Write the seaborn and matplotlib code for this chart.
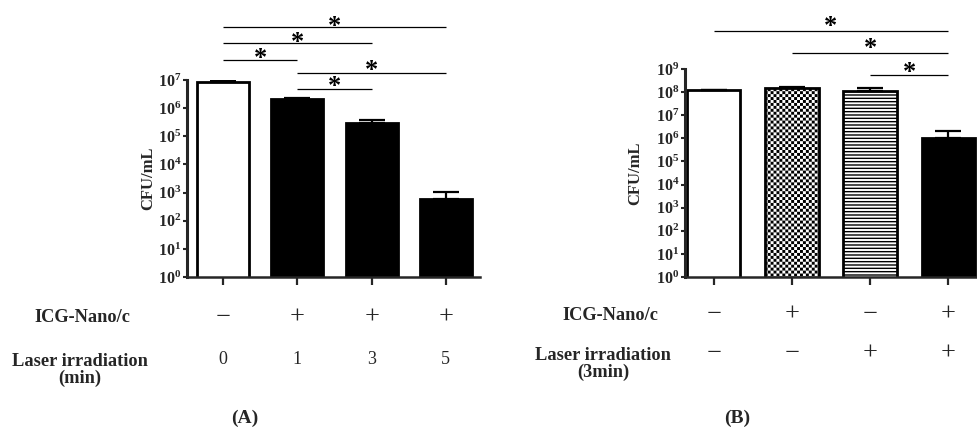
import numpy as np
import pandas as pd
import matplotlib
matplotlib.use("Agg")
import matplotlib.pyplot as plt
import matplotlib.hatch as mhatch
import matplotlib.transforms as mtransforms
from matplotlib.path import Path
from matplotlib.ticker import FixedLocator, FixedFormatter, NullLocator
import seaborn as sns

# ---------------- data ----------------
A_groups = ["Control", "ICG 1 min", "ICG 3 min", "ICG 5 min"]
A_cfu = [8.8e6, 2.2e6, 3.0e5, 6.0e2]
A_err = [2.0e5, 1.0e5, 0.75e5, 4.5e2]
A_icg = ["\u2212", "+", "+", "+"]
A_laser = ["0", "1", "3", "5"]
A_sig = [(0, 3), (0, 2), (0, 1), (1, 3), (1, 2)]
A_exp = [0, 1, 2, 3, 4, 5, 6, 7]

B_groups = ["Control", "ICG-Nano/c", "Laser", "ICG-Nano/c + Laser"]
B_cfu = [1.22e8, 1.55e8, 1.15e8, 1.0e6]
B_err = [5.0e6, 1.0e7, 3.0e7, 1.0e6]
B_icg = ["\u2212", "+", "\u2212", "+"]
B_laser = ["\u2212", "\u2212", "+", "+"]
B_sig = [(0, 3), (1, 3), (2, 3)]
B_exp = [0, 1, 2, 3, 4, 5, 6, 7, 8, 9]


# ------------- checkerboard hatch ('*') -------------
class CheckerHatch(mhatch.HatchPatternBase):
    cells = 34
    inset = 0.007

    def __init__(self, hatch, density):
        n = self.cells
        self.num_vertices = (n * n // 2) * 5 if hatch.count('*') > 0 else 0

    def set_vertices_and_codes(self, vertices, codes):
        n = self.cells
        s = 1.0 / n
        d = self.inset
        verts = []
        for i in range(n):
            for j in range(n):
                if (i + j) % 2 == 0:
                    x0, y0 = i * s + d, j * s + d
                    x1, y1 = (i + 1) * s - d, (j + 1) * s - d
                    verts.extend([(x0, y0), (x1, y0), (x1, y1), (x0, y1), (x0, y0)])
        vertices[:] = np.array(verts)
        codes[:] = np.tile([Path.MOVETO, Path.LINETO, Path.LINETO,
                            Path.LINETO, Path.CLOSEPOLY], n * n // 2)


mhatch._hatch_types = [t for t in mhatch._hatch_types if t is not mhatch.Stars] + [CheckerHatch]

# ---------------- style ----------------
sns.set_style("ticks")
plt.rcParams.update({
    "font.family": ["Liberation Serif", "DejaVu Serif"],
    "mathtext.fontset": "custom",
    "mathtext.rm": "Liberation Serif",
    "mathtext.bf": "Liberation Serif:bold",
    "mathtext.it": "Liberation Serif:italic",
    "hatch.linewidth": 1.0,
    "hatch.color": "black",
})

W, H = 977, 429
fig = plt.figure(figsize=(W / 100, H / 100), dpi=100)


def fx(px):
    return px / W


def fy(py):
    return 1 - py / H


axA = fig.add_axes([fx(187), fy(277), fx(480 - 187), (277 - 80) / H])
axB = fig.add_axes([fx(685), fy(277), fx(977 - 685), (277 - 69) / H])


def draw_panel(ax, groups, vals, errs, colors, hatches, exps, width, xlim):
    df = pd.DataFrame({"group": groups, "cfu": vals})
    sns.barplot(data=df, x="group", y="cfu", hue="group", palette=colors,
                legend=False, edgecolor="black", linewidth=2.0, width=width,
                saturation=1, errorbar=None, ax=ax, zorder=2)
    for p, h in zip(ax.patches, hatches):
        if h:
            p.set_hatch(h)
    ax.set_yscale("log")
    centers = [p.get_x() + p.get_width() / 2 for p in ax.patches]
    ax.errorbar(centers, vals, yerr=[np.zeros(len(errs)), errs], fmt="none",
                ecolor="black", elinewidth=1.6, capsize=9.5, capthick=1.6, zorder=3)
    ax.set_ylim(10 ** exps[0], 10 ** exps[-1])
    ax.set_xlim(*xlim)
    ax.yaxis.set_major_locator(FixedLocator([10.0 ** e for e in exps]))
    ax.yaxis.set_major_formatter(FixedFormatter([r"$\mathbf{10^{%d}}$" % e for e in exps]))
    ax.yaxis.set_minor_locator(NullLocator())
    ax.set_xticks(range(len(groups)))
    ax.set_xticklabels([])
    ax.set_xlabel("")
    ax.set_ylabel("CFU/mL", fontsize=12, fontweight="bold", labelpad=2)
    for s in ["top", "right"]:
        ax.spines[s].set_visible(False)
    ax.spines["left"].set_linewidth(2.2)
    ax.spines["bottom"].set_linewidth(1.8)
    ax.tick_params(axis="y", direction="out", length=3, width=1.5, pad=1.2, labelsize=11.5)
    ax.tick_params(axis="x", direction="out", length=6, width=1.6)


draw_panel(axA, A_groups, A_cfu, A_err, ["white", "black", "black", "black"],
           [None, None, None, None], A_exp, 0.70, (-0.485, 3.46))
draw_panel(axB, B_groups, B_cfu, B_err, ["white", "white", "white", "black"],
           [None, "*", "-----", None], B_exp, 0.68, (-0.37, 3.37))
axA.yaxis.set_label_coords((156 - 187) / 293, 0.5)
axB.yaxis.set_label_coords((643 - 685) / 292, 0.5)


def sig(ax, pairs, line_py, star_py):
    tr = mtransforms.blended_transform_factory(ax.transData, fig.transFigure)
    for (i, j), ly, sy in zip(pairs, line_py, star_py):
        ax.plot([i, j], [fy(ly), fy(ly)], transform=tr, color="black", lw=0.9,
                clip_on=False, solid_capstyle="butt")
        ax.text((i + j) / 2, fy(sy + 6.0), "*", transform=tr, ha="center", va="center",
                fontsize=19, fontweight="bold", color="black")


sig(axA, A_sig, [26.7, 43.3, 60, 73.3, 89], [20, 36, 52.7, 64.5, 81])
sig(axB, B_sig, [30.7, 52.7, 75], [20.7, 43, 67])


def table(ax, icg, laser, rows, icg_x, laser_x, laser_label, panel, panel_x):
    tr = mtransforms.blended_transform_factory(ax.transData, fig.transFigure)
    for k, (a, b) in enumerate(zip(icg, laser)):
        ax.text(k, fy(rows[0]), a, transform=tr, ha="center", va="center",
                fontsize=19 if a in "+\u2212" else 13)
        ax.text(k, fy(rows[1]), b, transform=tr, ha="center", va="center",
                fontsize=19 if b in "+\u2212" else 13)
    fig.text(fx(icg_x), fy(rows[0]), "ICG-Nano/c", ha="center", va="center",
             fontsize=13.2, fontweight="bold")
    fig.text(fx(laser_x), fy(rows[1] + 10), laser_label, ha="center", va="center",
             fontsize=13.2, fontweight="bold", multialignment="center", linespacing=1.05)
    fig.text(fx(panel_x), fy(418), panel, ha="center", va="center",
             fontsize=14, fontweight="bold")


table(axA, A_icg, A_laser, (318, 360), 82, 80, "Laser irradiation\n(min)", "(A)", 245)
table(axB, B_icg, B_laser, (315, 354), 610, 603, "Laser irradiation\n(3min)", "(B)", 737)

fig.savefig("out.png", dpi=100)
